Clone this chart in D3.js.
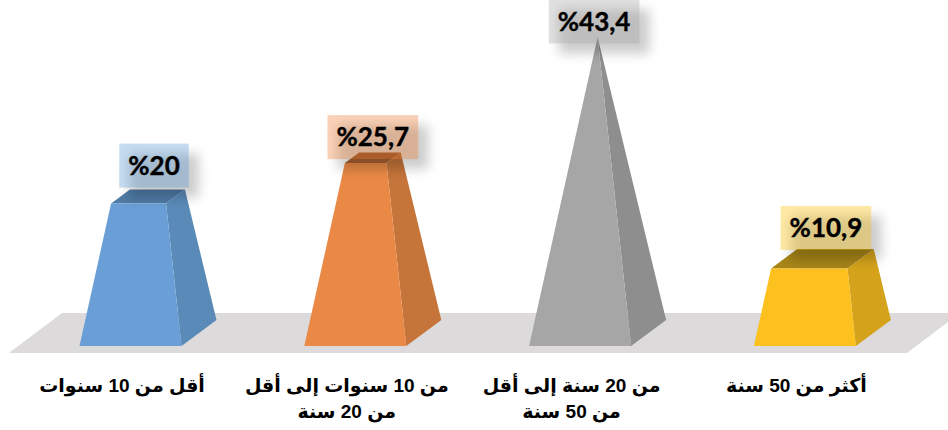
<!DOCTYPE html>
<html>
<head>
<meta charset="utf-8">
<script src="https://cdn.jsdelivr.net/npm/d3@7"></script>
<style>
body { margin: 0; background: #fff; }
svg { display: block; }
.tick text { font-family: "Liberation Sans", "Noto Sans", "DejaVu Sans", sans-serif; font-size: 19px; font-weight: bold; fill: #000; direction: rtl; }
.val { font-family: Lato, "Open Sans", sans-serif; font-size: 26px; font-weight: bold; fill: #000; stroke: #000; stroke-width: 0.4px; }
</style>
</head>
<body>
<div id="svg-div"></div>
<script>
var categories = ["أقل من 10 سنوات", "من 10 سنوات إلى أقل من 20 سنة", "من 20 سنة إلى أقل من 50 سنة", "أكثر من 50 سنة"];
var values = [20, 25.7, 43.4, 10.9];
var valueLabels = ["%20", "%25,7", "%43,4", "%10,9"];
var frontColors = ["#699fd6", "#e98945", "#a6a6a6", "#fcc01f"];
var sideColors = ["#5a8ab8", "#c5743a", "#8e8e8e", "#d4a31b"];
var topColors = ["#4f7ba5", "#a9602f", "#7a7a7a", "#a78518"];
var boxColors = ["#5b9bd5", "#ed7d31", "#a5a5a5", "#ffc000"];

var width = 948;
var height = 430;

var svg = d3.select("#svg-div").append("svg")
  .attr("width", width).attr("height", height);

var defs = svg.append("defs");
defs.append("filter").attr("id", "soft")
  .attr("x", "-40%").attr("y", "-60%").attr("width", "180%").attr("height", "220%")
  .append("feGaussianBlur").attr("stdDeviation", 6);

var x = d3.scaleBand().domain(categories).range([35.6, 934.8]);
var y = d3.scaleLinear().domain([0, 43.4]).range([333, 37]);

// corners of the base square around its centre, in screen space
var corners = { fl: [-68.5, 13], fr: [33.5, 13], br: [68.5, -13], bl: [-33.5, -13] };
var poly = d3.line();

function barCentre(i) {
  return x(categories[i]) + x.bandwidth() / 2;
}

// corner of a section of the pyramid at value v
function pt(i, v, c) {
  var s = 1 - v / y.domain()[1];
  return [barCentre(i) + corners[c][0] * s, y(v) + corners[c][1] * s];
}

// floor
svg.append("path")
  .attr("d", poly([[62, 313], [960, 313], [907, 353], [9, 353]]) + "Z")
  .attr("fill", "#dcdada");

var bars = svg.selectAll(".bar").data(values).enter().append("g").attr("class", "bar");

bars.append("path")
  .attr("d", function(d, i) { return poly([pt(i, d, "fl"), pt(i, d, "fr"), pt(i, d, "br"), pt(i, d, "bl")]) + "Z"; })
  .attr("fill", function(d, i) { return topColors[i]; });
bars.append("path")
  .attr("d", function(d, i) { return poly([pt(i, 0, "fr"), pt(i, 0, "br"), pt(i, d, "br"), pt(i, d, "fr")]) + "Z"; })
  .attr("fill", function(d, i) { return sideColors[i]; });
bars.append("path")
  .attr("d", function(d, i) { return poly([pt(i, 0, "fl"), pt(i, 0, "fr"), pt(i, d, "fr"), pt(i, d, "fl")]) + "Z"; })
  .attr("fill", function(d, i) { return frontColors[i]; });

// the labels were moved by hand in the original, so each has its own nudge
var nudgeX = [6, 0, -3.5, 3.5];
var nudgeY = [-31, -20.6, -15.5, -30.7];
var boxH = 44;
var boxPad = 9;

var labels = svg.selectAll(".lab").data(values).enter().append("g").attr("class", "lab")
  .attr("transform", function(d, i) {
    return "translate(" + (barCentre(i) + nudgeX[i]) + "," + (y(d) + nudgeY[i]) + ")";
  });

var texts = labels.append("text").attr("class", "val")
  .attr("text-anchor", "middle").attr("dy", "0.35em").style("direction", "ltr")
  .text(function(d, i) { return valueLabels[i]; });

texts.each(function(d, i) {
  var w = this.getComputedTextLength() + boxPad * 2;
  var g = d3.select(this.parentNode);
  g.insert("rect", "text")
    .attr("x", -w / 2 + 10).attr("y", -boxH / 2 + 10).attr("width", w).attr("height", boxH)
    .attr("fill", "#000").attr("opacity", 0.2).attr("filter", "url(#soft)");
  g.insert("rect", "text")
    .attr("x", -w / 2).attr("y", -boxH / 2).attr("width", w).attr("height", boxH)
    .attr("fill", boxColors[i]).attr("fill-opacity", 0.35);
});

// category labels
var axis = d3.axisBottom(x).tickSize(0).tickPadding(0);
var axisG = svg.append("g").attr("transform", "translate(-26,377)").call(axis);
axisG.select(".domain").remove();
axisG.selectAll(".tick text").call(wrap, 207);

function wrap(sel, maxW) {
  sel.each(function() {
    var text = d3.select(this);
    var words = text.text().split(" ");
    var line = [];
    var n = 0;
    text.text(null);
    var ts = text.append("tspan").attr("x", 0).attr("y", 0).attr("dy", "0.8em");
    words.forEach(function(w) {
      line.push(w);
      ts.text(line.join(" "));
      if (ts.node().getComputedTextLength() > maxW) {
        line.pop();
        ts.text(line.join(" "));
        line = [w];
        n++;
        ts = text.append("tspan").attr("x", 0).attr("y", 0).attr("dy", (0.8 + n * 1.37) + "em").text(w);
      }
    });
  });
}
</script>
</body>
</html>
